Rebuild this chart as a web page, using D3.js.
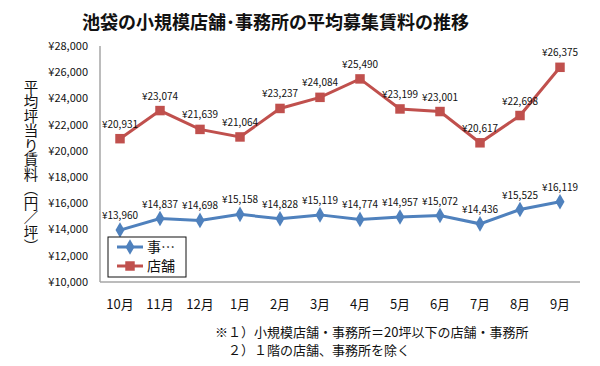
<!DOCTYPE html>
<html><head><meta charset="utf-8">
<script src="https://cdn.jsdelivr.net/npm/d3@7"></script>
<style>body{margin:0;background:#fff}svg{display:block}</style>
</head><body>
<svg id="c" width="600" height="366"></svg>
<script>
const months = ["10月","11月","12月","1月","2月","3月","4月","5月","6月","7月","8月","9月"];
const officeValues = [13960,14837,14698,15158,14828,15119,14774,14957,15072,14436,15525,16119];
const shopValues = [20931,23074,21639,21064,23237,24084,25490,23199,23001,20617,22698,26375];
const yTicks = [10000,12000,14000,16000,18000,20000,22000,24000,26000,28000];
const seriesNames = ["事…","店舗"];
const title = "池袋の小規模店舗･事務所の平均募集賃料の推移";
const yTitle = "平均坪当り賃料（円／坪）";
const notes = ["※１）小規模店舗・事務所＝20坪以下の店舗・事務所","２）１階の店舗、事務所を除く"];

const svg = d3.select("#c");
const font = "'Noto Sans CJK JP', 'Noto Sans', sans-serif";
const L=100,R=580,T=46,B=282;
const x = d3.scaleBand().domain(months).range([L,R]);
const y = d3.scaleLinear().domain([10000,28000]).range([B,T]);
const fmt = v => "¥" + d3.format(",")(v);

svg.append("text").attr("x",82).attr("y",29).attr("text-anchor","start")
  .attr("font-family",font).attr("font-weight","bold").attr("font-size",18).attr("fill","#111").text(title);

// axes lines
svg.append("line").attr("x1",L).attr("x2",L).attr("y1",T).attr("y2",B).attr("stroke","#a6a6a6").attr("stroke-width",1.5);
svg.append("line").attr("x1",L).attr("x2",R).attr("y1",B).attr("y2",B).attr("stroke","#a6a6a6").attr("stroke-width",1.5);

svg.append("g").selectAll("text").data(yTicks).join("text")
  .attr("x",88).attr("y",d=>y(d)).attr("dy","0.35em").attr("text-anchor","end")
  .attr("font-family",font).attr("font-size",11).attr("fill","#111").text(fmt);

svg.append("g").selectAll("text").data(months).join("text")
  .attr("x",d=>x(d)+x.bandwidth()/2).attr("y",304).attr("dy","0.35em").attr("text-anchor","middle")
  .attr("font-family",font).attr("font-size",13).attr("fill","#111").text(d=>d);

// y title vertical
svg.append("text").attr("font-family",font).attr("font-size",14.5).attr("fill","#111")
  .attr("style","writing-mode:vertical-rl").attr("x",31).attr("y",80).text(yTitle);

const cx = d => x(d)+x.bandwidth()/2;
const line = d3.line().x((d,i)=>cx(months[i])).y(d=>y(d));

const series = [
  {name:seriesNames[0], values:officeValues, color:"#4F81BD", marker:"diamond"},
  {name:seriesNames[1], values:shopValues, color:"#C0504D", marker:"square"}
];
const sym = {diamond:d3.symbol().type(d3.symbolDiamond).size(70), square:d3.symbol().type(d3.symbolSquare).size(90)};

series.forEach(s=>{
  svg.append("path").attr("d",line(s.values)).attr("fill","none").attr("stroke",s.color).attr("stroke-width",3);
  svg.append("g").selectAll("path").data(s.values).join("path")
    .attr("transform",(d,i)=>`translate(${cx(months[i])},${y(d)})`)
    .attr("d",sym[s.marker]()).attr("fill",s.color);
  svg.append("g").selectAll("text").data(s.values).join("text")
    .attr("x",(d,i)=>cx(months[i])).attr("y",d=>y(d)-11).attr("text-anchor","middle")
    .attr("font-family",font).attr("font-size",10).attr("fill","#111").text(fmt);
});

// legend
const lg = svg.append("g");
lg.append("rect").attr("x",108).attr("y",237).attr("width",78).attr("height",40).attr("fill","#fff").attr("stroke","#111").attr("stroke-width",1);
series.forEach((s,i)=>{
  const ly = 247 + i*19;
  lg.append("line").attr("x1",117).attr("x2",143).attr("y1",ly).attr("y2",ly).attr("stroke",s.color).attr("stroke-width",3);
  lg.append("path").attr("transform",`translate(130,${ly})`).attr("d",sym[s.marker]()).attr("fill",s.color);
  lg.append("text").attr("x",147).attr("y",ly).attr("dy","0.35em").attr("font-family",font).attr("font-size",14).attr("fill","#111").text(s.name);
});

svg.append("text").attr("x",215).attr("y",337).attr("font-family",font).attr("font-size",13).attr("fill","#111").text(notes[0]);
svg.append("text").attr("x",228).attr("y",355).attr("font-family",font).attr("font-size",13).attr("fill","#111").text(notes[1]);
</script>
</body></html>
